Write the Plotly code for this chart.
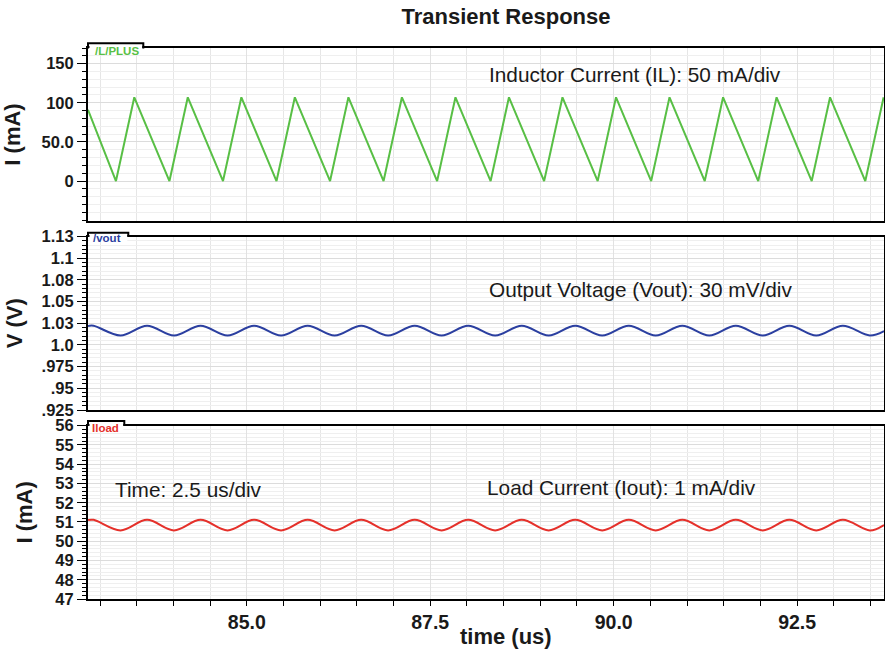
import plotly.graph_objects as go
from plotly.subplots import make_subplots

# ---------------- data ----------------
# Inductor current: triangle-wave vertices (time in us, current in mA)
il_t = [82.836, 83.217, 83.467, 83.946, 84.196, 84.676, 84.926, 85.405, 85.655,
        86.135, 86.385, 86.864, 87.114, 87.594, 87.844, 88.323, 88.573, 89.052,
        89.302, 89.782, 90.032, 90.511, 90.761, 91.241, 91.491, 91.970, 92.220,
        92.699, 92.949, 93.429, 93.679]
il_v = [91, 0, 107, 0, 107, 0, 107, 0, 107, 0, 107, 0, 107, 0, 107, 0, 107, 0,
        107, 0, 107, 0, 107, 0, 107, 0, 107, 0, 107, 0, 107]

# Output voltage / load current ripple: sample times (us) of crests/troughs
ripple_t = [82.836, 82.912, 83.279, 83.641, 84.008, 84.370, 84.738, 85.100,
            85.467, 85.829, 86.197, 86.559, 86.926, 87.288, 87.655, 88.017,
            88.385, 88.747, 89.114, 89.476, 89.844, 90.206, 90.573, 90.935,
            91.303, 91.664, 92.032, 92.394, 92.761, 93.123, 93.491, 93.684]
vout_v = [1.0219, 1.0221, 1.0109, 1.0221, 1.0109, 1.0221, 1.0109, 1.0221,
          1.0109, 1.0221, 1.0109, 1.0221, 1.0109, 1.0221, 1.0109, 1.0221,
          1.0109, 1.0221, 1.0109, 1.0221, 1.0109, 1.0221, 1.0109, 1.0221,
          1.0109, 1.0221, 1.0109, 1.0221, 1.0109, 1.0221, 1.0109, 1.0160]
iload_v = [51.10, 51.11, 50.56, 51.11, 50.56, 51.11, 50.56, 51.11,
           50.56, 51.11, 50.56, 51.11, 50.56, 51.11, 50.56, 51.11,
           50.56, 51.11, 50.56, 51.11, 50.56, 51.11, 50.56, 51.11,
           50.56, 51.11, 50.56, 51.11, 50.56, 51.11, 50.56, 50.84]

x_ticks = [85.0, 87.5, 90.0, 92.5]
x_ticktext = ["85.0", "87.5", "90.0", "92.5"]
il_ticks = [0, 50, 100, 150]
il_ticktext = ["0", "50.0", "100", "150"]
v_ticks = [0.925, 0.95, 0.975, 1.0, 1.025, 1.05, 1.075, 1.1, 1.125]
v_ticktext = [".925", ".95", ".975", "1.0", "1.03", "1.05", "1.08", "1.1", "1.13"]
i_ticks = [47, 48, 49, 50, 51, 52, 53, 54, 55, 56]

# ---------------- figure ----------------
W, H = 885, 653
ML, MR, MT, MB = 88, 1, 48, 54
PW, PH = W - ML - MR, H - MT - MB


def px(x):
    return (x - ML) / PW


def py(y):
    return (H - MB - y) / PH


GREEN = "#58bf45"
BLUE = "#2b3fa0"
RED = "#e5302a"
FONT = "Liberation Sans, Arial, sans-serif"

fig = make_subplots(rows=3, cols=1, shared_xaxes=True)

fig.add_trace(go.Scatter(x=il_t, y=il_v, mode="lines", name="/L/PLUS",
                         line=dict(color=GREEN, width=2)), row=1, col=1)
fig.add_trace(go.Scatter(x=ripple_t, y=vout_v, mode="lines", name="/vout",
                         line=dict(color=BLUE, width=2, shape="spline", smoothing=1.0)),
              row=2, col=1)
fig.add_trace(go.Scatter(x=ripple_t, y=iload_v, mode="lines", name="Iload",
                         line=dict(color=RED, width=2, shape="spline", smoothing=1.0)),
              row=3, col=1)

common_x = dict(range=[82.836, 93.684], showline=True, mirror=True,
                linecolor="black", linewidth=2, showgrid=True,
                gridcolor="#e2e2e2", gridwidth=1, tickvals=x_ticks,
                zeroline=False,
                minor=dict(dtick=0.5, tick0=85, showgrid=True, gridcolor="#e6e6e6"))
for i in (1, 2, 3):
    xa = dict(common_x)
    if i < 3:
        xa.update(ticks="", showticklabels=False)
    else:
        xa.update(ticks="outside", ticklen=5, tickcolor="black", ticktext=x_ticktext,
                  showticklabels=True,
                  tickfont=dict(family=FONT, size=19.5, color="#1a1a1a", weight="bold"))
        xa["minor"] = dict(dtick=0.5, tick0=85, showgrid=True, gridcolor="#e6e6e6",
                           ticks="outside", ticklen=5, tickcolor="black")
    fig.update_xaxes(xa, row=i, col=1)

common_y = dict(showline=True, mirror=True, linecolor="black", linewidth=2,
                ticks="outside", ticklen=9, tickcolor="black", zeroline=False,
                showgrid=True, gridcolor="#dcdcdc",
                tickfont=dict(family=FONT, size=16.5, color="#1a1a1a", weight="bold"))
ytitle_font = dict(family=FONT, size=22, color="#1a1a1a", weight="bold")

fig.update_yaxes(common_y, row=1, col=1)
fig.update_yaxes(range=[-51, 170], tickvals=il_ticks, ticktext=il_ticktext,
                 domain=[py(221), 1.0],
                 minor=dict(dtick=10, tick0=0, ticks="outside", ticklen=4, tickcolor="black",
                            showgrid=True, gridcolor="#efefef"),
                 title=dict(text="I (mA)", font=ytitle_font, standoff=17),
                 row=1, col=1)
fig.update_yaxes(common_y, row=2, col=1)
fig.update_yaxes(range=[0.925, 1.125], tickvals=v_ticks, ticktext=v_ticktext,
                 domain=[py(410), py(236.5)],
                 minor=dict(dtick=0.005, tick0=0.925, ticks="outside", ticklen=4,
                            tickcolor="black", showgrid=True, gridcolor="#efefef"),
                 title=dict(text="V (V)", font=ytitle_font, standoff=13),
                 row=2, col=1)
fig.update_yaxes(common_y, row=3, col=1)
fig.update_yaxes(range=[47, 56], tickvals=i_ticks,
                 domain=[0.0, py(425.7)],
                 minor=dict(dtick=0.2, tick0=47, ticks="outside", ticklen=4,
                            tickcolor="black", showgrid=True, gridcolor="#efefef"),
                 title=dict(text="I (mA)", font=ytitle_font, standoff=17),
                 row=3, col=1)

# signal name tabs on top-left of each panel
tabs = [("/L/PLUS", GREEN, 48.5, 43.3, 143.3, 117, 51.5),
        ("/vout", BLUE, 236.5, 232.8, 128.3, 107, 238.5),
        ("Iload", RED, 425.7, 421.0, 124.3, 105.5, 427.5)]
shapes = []
annotations = []
for name, col, frame_y, top_y, right_x, tx, ty in tabs:
    shapes.append(dict(type="rect", xref="paper", yref="paper", layer="above",
                       x0=px(89.5), x1=px(right_x - 1), y0=py(frame_y + 5.5),
                       y1=py(top_y + 1), fillcolor="white", line=dict(width=0)))
    shapes.append(dict(type="path", xref="paper", yref="paper", layer="above",
                       path=(f"M {px(88)} {py(frame_y)} L {px(88)} {py(top_y)} "
                             f"L {px(right_x)} {py(top_y)} L {px(right_x)} {py(frame_y)}"),
                       line=dict(color="black", width=2)))
    annotations.append(dict(text=f"<b>{name}</b>", xref="paper", yref="paper",
                            x=px(tx), y=py(ty), xanchor="center", yanchor="middle",
                            showarrow=False,
                            font=dict(family=FONT, size=11.5, color=col)))

note_font = dict(family=FONT, size=20.8, color="#1a1a1a")
for text, x, y in [("Inductor Current (IL): 50 mA/div", 487, 74),
                   ("Output Voltage (Vout): 30 mV/div", 487, 289),
                   ("Time: 2.5 us/div", 113, 489),
                   ("Load Current (Iout): 1 mA/div", 485, 488)]:
    annotations.append(dict(text=text, xref="paper", yref="paper", x=px(x), y=py(y),
                            xanchor="left", yanchor="middle", showarrow=False,
                            font=note_font))

# x-axis title (centred like the reference, under the chart title)
annotations.append(dict(text="<b>time (us)</b>", xref="paper", yref="paper",
                        x=px(506), y=py(636), xanchor="center", yanchor="middle",
                        showarrow=False,
                        font=dict(family=FONT, size=22, color="#1a1a1a")))

fig.update_layout(
    width=W, height=H,
    margin=dict(l=ML, r=MR, t=MT, b=MB, autoexpand=False),
    paper_bgcolor="white", plot_bgcolor="white",
    showlegend=False,
    title=dict(text="<b>Transient Response</b>", x=px(506), xref="paper",
               xanchor="center", y=1 - 16 / H, yref="container", yanchor="middle",
               font=dict(family=FONT, size=22, color="#1a1a1a")),
    shapes=shapes, annotations=annotations,
)

fig.write_html("out.html", config={"displayModeBar": False},
               post_script="document.body.style.margin='0';document.body.style.padding='0';")
